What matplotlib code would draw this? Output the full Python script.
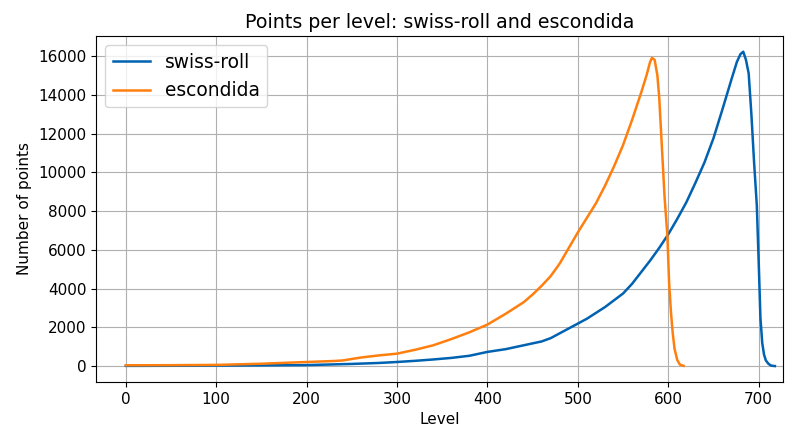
import matplotlib.pyplot as plt

# values (level -> number of points)
swiss_levels = [0, 50, 100, 150, 200, 250, 280, 300, 320, 340, 360, 380, 400, 420,
                440, 460, 470, 480, 490, 500, 510, 520, 530, 540, 550, 560, 570, 580,
                590, 600, 610, 620, 630, 640, 650, 660, 670, 676, 680, 683, 686, 689,
                692, 695, 698, 700, 702, 704, 706, 708, 711, 714, 718]
swiss_points = [20, 25, 35, 45, 60, 120, 170, 220, 280, 350, 430, 540, 740, 880,
                1080, 1280, 1450, 1700, 1950, 2200, 2450, 2750, 3050, 3400, 3750, 4250,
                4850, 5450, 6100, 6800, 7600, 8450, 9450, 10500, 11750, 13250, 14800,
                15700, 16100, 16220, 15800, 15100, 13000, 10500, 8300, 5500, 2500, 1200,
                600, 300, 120, 30, 10]

esc_levels = [0, 50, 100, 150, 200, 230, 240, 260, 280, 300, 320, 340, 360, 380, 400,
              420, 440, 450, 460, 470, 480, 490, 500, 510, 520, 530, 540, 550, 560, 570,
              576, 580, 582, 585, 588, 590, 593, 596, 599, 601, 603, 605, 607, 610,
              613, 617]
esc_points = [50, 55, 70, 130, 220, 270, 300, 450, 560, 650, 850, 1080, 1400, 1750,
              2150, 2700, 3300, 3700, 4150, 4650, 5300, 6100, 6900, 7650, 8400, 9300,
              10300, 11400, 12700, 14100, 15000, 15700, 15900, 15800, 15000, 13900,
              11300, 8700, 6800, 4300, 2800, 1700, 900, 320, 80, 20]

fig = plt.figure(figsize=(7.96, 4.29), dpi=100)
ax = fig.add_axes([0.1206, 0.1096, 0.8631, 0.8065])
ax.plot(swiss_levels, swiss_points, color="#0062b0", linewidth=1.8, label="swiss-roll")
ax.plot(esc_levels, esc_points, color="#ff7f0e", linewidth=1.8, label="escondida")
ax.set_xlim(-33, 727)
ax.set_ylim(-811, 17031)
ax.set_xticks(range(0, 701, 100))
ax.set_yticks(range(0, 16001, 2000))
ax.tick_params(labelsize=11)
ax.grid(True)
ax.set_xlabel("Level", fontsize=11)
ax.set_ylabel("Number of points", fontsize=11)
ax.set_title("Points per level: swiss-roll and escondida", fontsize=13.7)
ax.legend(loc="upper left", fontsize=13.4)
fig.savefig("out.png", dpi=100)
